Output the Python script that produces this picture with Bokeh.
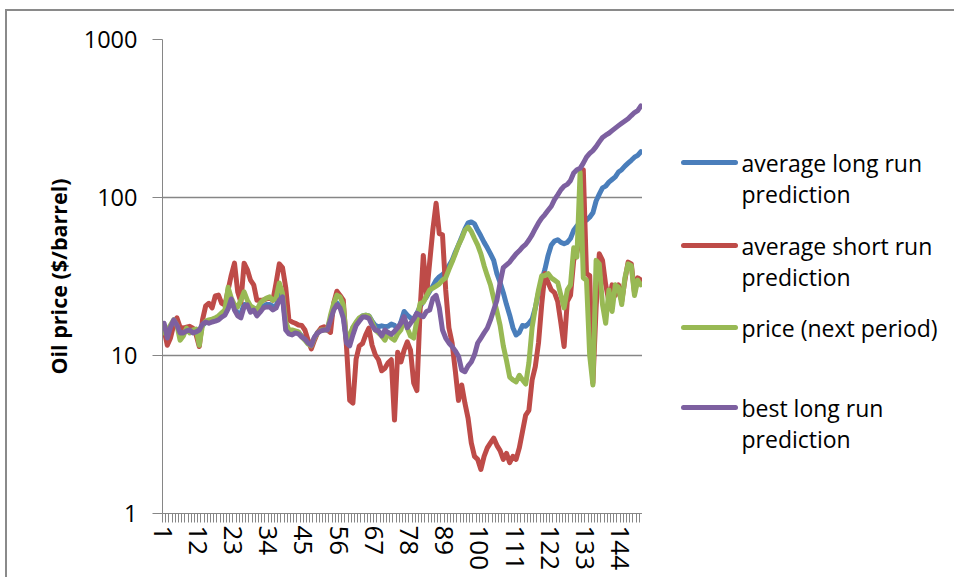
from bokeh.plotting import figure
from bokeh.models import Range1d, FixedTicker
from bokeh.layouts import row
from bokeh.core.properties import value
from bokeh.embed import file_html
from bokeh.resources import INLINE

# ---------------- data ----------------
avg_long_run = [
    15.5, 13.5, 15.0, 16.5, 15.5, 14.0, 14.0, 14.5, 14.5, 14.2, 14.2, 14.0, 15.5, 16.2, 16.2,
    16.5, 16.8, 17.2, 17.8, 18.5, 21.0, 22.5, 20.0, 18.5, 18.5, 21.0, 21.0, 19.5, 19.5, 18.5,
    19.5, 20.5, 21.0, 21.0, 20.5, 20.5, 24.0, 23.5, 16.0, 14.2, 14.0, 14.2, 14.0, 13.3, 12.8,
    12.0, 11.8, 13.0, 14.0, 14.5, 14.7, 14.7, 17.0, 20.0, 21.5, 20.5, 18.0, 12.5,
    13.0, 15.0, 16.0, 17.0, 17.8, 18.0, 17.8, 16.5, 15.5, 15.2, 15.4, 15.2, 15.3, 15.8, 15.5,
    14.5, 16.3, 19.0, 18.0, 17.3, 17.0, 18.5, 20.4, 22.0, 23.5, 25.5, 27.5, 30.0, 31.5, 32.5,
    34, 37, 40, 45, 50, 56, 63, 69, 70, 68, 62, 57, 52, 48, 44,
    40, 33, 29, 25, 21, 18, 15, 13.5, 14, 15.5, 15.3, 16, 17, 20, 25,
    30, 35, 43, 50, 53, 54, 52, 51, 52, 55, 62, 66, 70, 74, 72, 75,
    80, 95, 105, 115, 118, 125, 130, 135, 145, 150, 158, 165, 172, 180, 185, 195,
]
avg_short_run = [
    14.5, 11.6, 12.9, 15.6, 17.3, 15.1, 14.9, 15.1, 15.3, 14.9, 13.5, 11.4, 16.8, 20.6, 21.4,
    20.0, 23.8, 24.1, 21.4, 20.9, 26.0, 32.3, 38.4, 25.3, 21.7, 38.4, 35.0, 30.0,
    28.0, 22.4, 22.4, 22.4, 22.8, 23.1, 22.4, 28.8, 38.0, 36.0, 27.0, 16.8, 16.3, 16.0, 15.6,
    15.5, 14.5, 12.5, 11.0, 12.5, 14.0, 14.9, 15.2, 14.5, 14.0, 21.5, 25.5, 24.0, 22.4, 11.4,
    5.2, 5.0,
    9.5, 11.5, 11.9, 13.5, 14.9, 11.6, 10.1, 9.4, 8.0, 8.3, 9.0, 9.4, 3.9, 10.5, 9.1,
    10.8, 12.2, 10.8, 6.7, 6.0, 19.4, 43, 24, 39, 63, 92, 59, 58,
    26, 15, 12, 8, 5.2, 6.5, 5.0, 4.0, 2.8, 2.3, 2.2, 1.9, 2.3, 2.6, 2.8,
    3.0, 2.7, 2.5, 2.2, 2.4, 2.1, 2.3, 2.2, 2.6, 3.3, 4.2, 4.5, 7.0,
    8.5, 12, 21, 33, 29, 26, 25, 22, 16, 11.4, 22, 24, 40, 45, 55, 150,
    33, 32, 6.7, 20, 44, 40, 28, 22, 28, 24, 28, 22, 30, 39, 38, 25, 31, 30,
]
price_next = [
    13.9, 14.5, 15.6, 16.8, 15.6, 12.5, 13.3, 14.9, 13.9, 14.5, 14.7, 11.6, 15.6, 16.5, 16.8,
    17.0, 17.3, 17.8, 18.6, 19.4, 27.0, 23.1, 20.9, 20.3, 22.4, 25.3, 22.4, 20.6,
    20.0, 19.4, 21.4, 22.4, 23.1, 23.5, 22.4, 23.1, 28.8, 24.9, 16.3, 14.5, 14.5, 14.3, 14.1,
    13.1, 12.5, 11.8, 11.5, 12.9, 13.9, 14.5, 14.5, 14.5, 18.0, 21.4, 24.1, 23.5, 20.9, 12.5,
    13.5,
    15.1, 16.3, 17.3, 17.8, 18.0, 17.8, 16.3, 14.5, 13.9, 13.3, 12.5, 13.9, 12.9, 12.5, 13.7,
    14.5, 17.3, 14.9, 13.3, 12.9, 16.8, 21.4, 21.7, 23.8, 26.0, 26.7, 27.5, 28.4, 30.0,
    31, 35, 39, 44, 50, 55, 62, 65, 61, 55, 50, 44, 37, 32, 28,
    23, 19, 15.5, 11.5, 9.3, 7.3, 7.0, 6.8, 7.5, 7.0, 6.6, 9, 15, 20, 26,
    32, 32, 33, 31, 30, 29, 24, 20, 26, 28, 48, 42, 145, 31, 30, 10,
    6.5, 40, 38, 21, 16, 26, 19, 28, 27, 21, 31, 38, 37, 24, 30, 28,
]
best_long_run = [
    16.0, 12.9, 15.1, 16.8, 15.6, 13.9, 13.9, 14.3, 14.5, 13.9, 14.1, 14.5, 15.8, 16.3, 16.0,
    16.3, 16.5, 16.8, 17.5, 18.0, 19.7, 22.8, 19.4, 17.8, 17.3, 20.3, 20.9, 18.8,
    19.4, 17.8, 18.8, 20.0, 20.3, 20.3, 19.4, 20.0, 22.4, 23.5, 14.5, 13.7, 13.5, 13.9, 13.7,
    13.1, 12.7, 12.0, 11.6, 13.1, 13.9, 14.3, 14.5, 14.5, 16.8, 19.4, 20.9, 20.0, 17.3, 12.0,
    11.5, 13.5, 15.5, 16.5, 17.5, 17.5, 17.2, 15.5, 14.5, 14.3, 13.3, 14.5, 14.0, 13.6, 14.2,
    15.0, 16.0, 17.6, 15.0, 16.0, 17.0, 18.5, 18.0, 17.6, 19.0, 19.4, 23.0, 24.0, 20.0, 14.5,
    12.9, 12.0, 11.4, 10.7, 9.9, 8.1, 7.9, 8.6, 9.1, 10.1, 12.0, 12.9, 13.9, 14.9, 16.8,
    19.4, 22.4, 28.8, 36, 37.5, 39, 41.5, 44, 46, 48.5, 50.5, 53.8, 58, 63.5, 69,
    74, 78, 83, 88, 97, 104, 112, 118, 121, 128,
    143, 150, 153, 165, 180, 190, 198, 210, 225, 240, 248,
    255, 265, 275, 285, 295, 305, 315, 330, 345, 355, 380,
]
categories = list(range(1, len(best_long_run) + 1))
x_tick_labels = ["1", "12", "23", "34", "45", "56", "67", "78", "89",
                 "100", "111", "122", "133", "144"]
y_ticks = [1, 10, 100, 1000]
y_tick_labels = ["1", "10", "100", "1000"]

legend_lines = [["average long run", "prediction"], ["average short run", "prediction"],
                ["price (next period)"], ["best long run", "prediction"]]
colors = ["#4A7EBB", "#BE4B48", "#98B954", "#7D60A0"]
series = [avg_long_run, avg_short_run, price_next, best_long_run]

FONT = "Open Sans"
AXIS_GRAY = "#868686"

# layout constants (pixels)
B_LEFT, B_TOP, B_BOTTOM = 155, 28, 64
FRAME_W, FRAME_H = 480, 474
H = B_TOP + FRAME_H + B_BOTTOM

# ---------------- main chart ----------------
n = len(categories)
p = figure(width=B_LEFT + FRAME_W, height=H, y_axis_type="log",
           x_range=Range1d(0.5, n + 0.5), y_range=Range1d(1, 1000),
           output_backend="svg", toolbar_location=None,
           min_border_left=B_LEFT, min_border_right=0, min_border_top=B_TOP,
           min_border_bottom=B_BOTTOM)
p.outline_line_color = None
p.background_fill_color = "white"
p.border_fill_color = "white"

for s, c in zip(series, colors):
    p.line(categories, s, line_color=c, line_width=5, line_join="round", line_cap="round")

# y axis
p.yaxis.ticker = FixedTicker(ticks=y_ticks)
p.yaxis.major_label_overrides = {t: lab for t, lab in zip(y_ticks, y_tick_labels)}
p.yaxis.minor_tick_line_color = None
p.yaxis.major_tick_in = 0
p.yaxis.major_tick_out = 10
p.yaxis.axis_line_color = AXIS_GRAY
p.yaxis.major_tick_line_color = AXIS_GRAY
p.yaxis.major_label_text_font = FONT
p.yaxis.major_label_text_font_size = "23.5px"
p.yaxis.major_label_text_color = "#000000"
p.yaxis.major_label_standoff = 15
p.yaxis.axis_label = "Oil price ($/barrel)"
p.yaxis.axis_label_text_font = FONT
p.yaxis.axis_label_text_font_size = "21.5px"
p.yaxis.axis_label_text_font_style = "bold"
p.yaxis.axis_label_text_color = "#000000"
p.yaxis.axis_label_standoff = 8

# x axis: ticks at category boundaries, labels every 11 categories
bounds = [k + 0.5 for k in range(0, n + 1)]
overrides = {b: "" for b in bounds}
for lab in x_tick_labels:
    overrides[int(lab) - 0.5] = lab
p.xaxis.ticker = FixedTicker(ticks=bounds)
p.xaxis.major_label_overrides = overrides
p.xaxis.major_label_orientation = "vertical"
p.xaxis.minor_tick_line_color = None
p.xaxis.major_tick_in = 0
p.xaxis.major_tick_out = 9
p.xaxis.axis_line_color = AXIS_GRAY
p.xaxis.major_tick_line_color = AXIS_GRAY
p.xaxis.major_label_text_font = FONT
p.xaxis.major_label_text_font_size = "26px"
p.xaxis.major_label_text_color = "#000000"
p.xaxis.major_label_standoff = 3

p.xgrid.grid_line_color = None
p.ygrid.ticker = FixedTicker(ticks=[10, 100, 1000])
p.ygrid.grid_line_color = AXIS_GRAY
p.ygrid.grid_line_width = 1.5

# ---------------- legend panel (data units == canvas pixels) ----------------
LW = 312
lg = figure(width=LW, height=H, x_range=Range1d(0, LW),
            y_range=Range1d(B_TOP + FRAME_H, B_TOP),
            output_backend="svg", toolbar_location=None,
            min_border_left=0, min_border_right=0,
            min_border_top=B_TOP, min_border_bottom=B_BOTTOM)
lg.axis.visible = False
lg.grid.grid_line_color = None
lg.outline_line_color = None

entry_y = [151, 234, 316, 396]
line_gap = 31.5
for ey, c, lines in zip(entry_y, colors, legend_lines):
    lg.line([41, 93], [ey, ey], line_color=c, line_width=5, line_cap="round")
    for j, t in enumerate(lines):
        lg.text(x=[99], y=[ey + j * line_gap], text=[t], text_font=value(FONT),
                text_font_size="23px", text_baseline="middle", text_align="left",
                text_color="#000000")

layout = row(p, lg, styles={"border-top": "2px solid #8a8a8a",
                            "border-left": "2px solid #8a8a8a",
                            "margin-left": "5px", "margin-top": "9px"})

open("out.html", "w").write(file_html(layout, INLINE))
